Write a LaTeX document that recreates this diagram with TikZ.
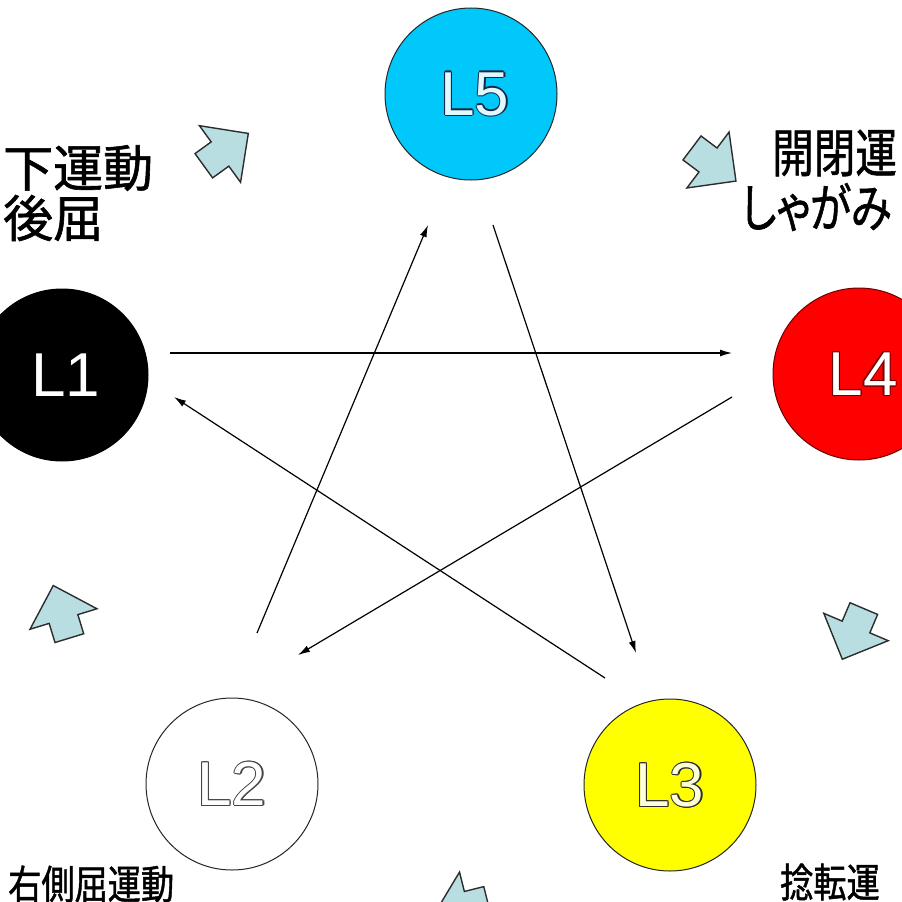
\documentclass[tikz,border=0pt]{standalone}
\usepackage{fontspec}
\newfontfamily\jpfont[RawFeature={+palt}, FakeBold=1.2]{Noto Sans CJK JP}
\newfontfamily\latfont{Liberation Sans}
\usetikzlibrary{arrows.meta,calc}
\definecolor{arrowfill}{RGB}{184,222,226}
\definecolor{edgegray}{RGB}{45,45,45}
\definecolor{cyanball}{RGB}{0,200,250}
\definecolor{redball}{RGB}{255,0,0}
\definecolor{yellowball}{RGB}{255,255,0}
\definecolor{navyedge}{RGB}{20,40,70}
\definecolor{palecyan}{RGB}{225,248,255}
\definecolor{paleyellow}{RGB}{255,255,215}
\definecolor{darkred}{RGB}{110,0,0}
\definecolor{grayedge}{RGB}{70,70,70}
\newcommand\halotext[3]{\setbox0=\hbox{#3}%
\rlap{\textcolor{#1}{\kern-1.3pt\copy0}}%
\rlap{\textcolor{#1}{\kern1.3pt\copy0}}%
\rlap{\textcolor{#1}{\raisebox{1.3pt}{\copy0}}}%
\rlap{\textcolor{#1}{\raisebox{-1.3pt}{\copy0}}}%
\rlap{\textcolor{#1}{\kern-0.9pt\raisebox{0.9pt}{\copy0}}}%
\rlap{\textcolor{#1}{\kern0.9pt\raisebox{0.9pt}{\copy0}}}%
\rlap{\textcolor{#1}{\kern-0.9pt\raisebox{-0.9pt}{\copy0}}}%
\rlap{\textcolor{#1}{\kern0.9pt\raisebox{-0.9pt}{\copy0}}}%
\textcolor{#2}{\copy0}}
\newcommand\blockarrow[3]{\draw[blockarrowstyle, shift={(#1,#2)}, rotate=#3]
 (35,0) -- (0,35) -- (0,15) -- (-20,15) -- (-20,-15) -- (0,-15) -- (0,-35) -- cycle;}
\tikzset{
 ball/.style={circle, minimum size=172pt, inner sep=0pt, draw=black!85, line width=1pt,
   font=\latfont\fontsize{62}{62}\selectfont},
 link/.style={line width=1.2pt, -{Latex[length=12pt,width=7pt]}},
 blockarrowstyle/.style={fill=arrowfill, draw=edgegray, line width=1.4pt, line join=miter},
 jpleft/.style={anchor=west, inner sep=0pt, text=black, font=\jpfont\fontsize{50}{54}\selectfont},
 jpright/.style={anchor=west, inner sep=0pt, text=black, font=\jpfont\fontsize{52}{56}\selectfont},
 jpsmall/.style={anchor=west, inner sep=0pt, text=black, font=\jpfont\fontsize{40}{44}\selectfont}
}
\begin{document}
\begin{tikzpicture}[x=1pt,y=-1pt]
\path[use as bounding box] (0,0) rectangle (902,902);
\clip (0,0) rectangle (902,902);
\fill[white] (0,0) rectangle (902,902);

% circles
\node[ball, fill=cyanball] (L5) at (471,94) {\hspace*{8pt}\halotext{navyedge}{palecyan}{L5}};
\node[ball, fill=black, draw=black] (L1) at (62,375) {\hspace*{8pt}\textcolor{white}{L1}};
\node[ball, fill=redball, draw=darkred] (L4) at (859,374) {\hspace*{8pt}\halotext{darkred}{white}{L4}};
\node[ball, fill=white] (L2) at (232,784) {\halotext{grayedge}{white}{L2}};
\node[ball, fill=yellowball] (L3) at (670,785) {\halotext{edgegray}{paleyellow}{L3}};

% connectors (pentagram)
\draw[link] ($(L1)+(108,-22)$) -- ($(L4)+(-127,-21)$);
\draw[link] ($(L4)+(-127,23)$) -- ($(L2)+(66,-129)$);
\draw[link] ($(L2)+(25,-151)$) -- ($(L5)+(-43,131)$);
\draw[link] ($(L5)+(22,131)$) -- ($(L3)+(-34,-132)$);
\draw[link] ($(L3)+(-65,-107)$) -- ($(L1)+(112,22)$);

% block arrows around the circle
\blockarrow{220}{154}{36}
\blockarrow{708}{160}{-37}
\blockarrow{856}{627}{-113}
\blockarrow{468}{906}{194}
\blockarrow{63.5}{619}{107}

% texts
\node[jpleft] (t1a) at (3,168) {下運動};
\node[jpleft] (t1b) at (3,218) {後屈};
\node[jpright] (t2a) at (772,153) {\scalebox{0.8}[1]{開閉運}};
\node[jpright] (t2b) at (741,207) {\scalebox{0.8}[1]{しゃがみ}};
\node[jpsmall] (t3) at (8,884) {\scalebox{0.83}[1]{右側屈運動}};
\node[jpsmall] (t4) at (780,882) {\scalebox{0.83}[1]{捻転運}};
\end{tikzpicture}
\end{document}
